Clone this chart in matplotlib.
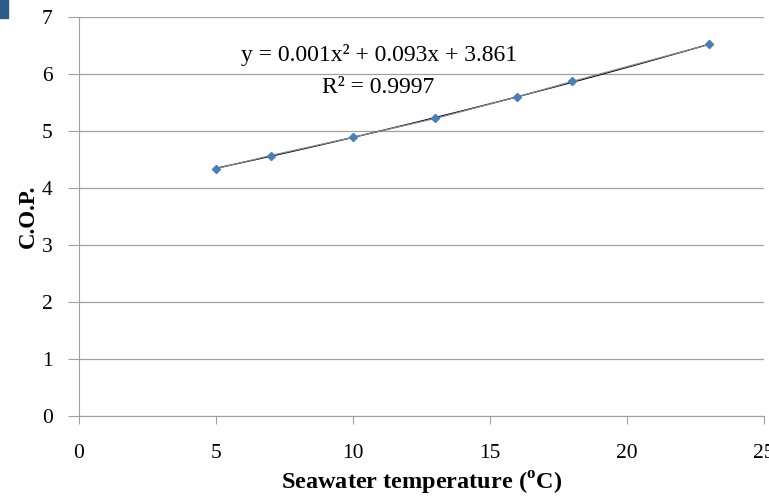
import matplotlib.pyplot as plt
import numpy as np
from matplotlib.patches import Rectangle

plt.rcParams['font.family'] = 'Liberation Serif'
plt.rcParams['mathtext.fontset'] = 'custom'
plt.rcParams['mathtext.rm'] = 'Liberation Serif'
plt.rcParams['mathtext.bf'] = 'Liberation Serif:bold'

# seawater temperature (C) and coefficient of performance
temp = [5, 7, 10, 13, 16, 18, 23]
cop = [4.34, 4.57, 4.89, 5.22, 5.60, 5.87, 6.52]
x_ticks = [0, 5, 10, 15, 20, 25]
y_ticks = [0, 1, 2, 3, 4, 5, 6, 7]

fig = plt.figure(figsize=(7.69, 5.01), dpi=100)
ax = fig.add_axes([0.1027, 0.1697, 0.891, 0.7963])

# 2nd order trendline
coef = np.polyfit(temp, cop, 2)
xf = np.linspace(temp[0], temp[-1], 100)
ax.plot(xf, np.polyval(coef, xf), color='black', lw=0.9, zorder=3)

ax.plot(temp, cop, color='#7f8a99', lw=0.9, marker='D', markersize=4.5,
        markerfacecolor='#4a7ebb', markeredgecolor='#4a7ebb', zorder=4)

ax.set_xlim(0, 25)
ax.set_ylim(0, 7)
ax.set_xticks(x_ticks)
ax.set_yticks(y_ticks)
ax.yaxis.grid(True, color='#a0a0a0', lw=0.9)
ax.set_axisbelow(True)
for s in ['top', 'right']:
    ax.spines[s].set_visible(False)
ax.spines['left'].set_color('#a0a0a0')
ax.spines['bottom'].set_color('#a0a0a0')
ax.tick_params(axis='y', length=8, color='#a0a0a0', labelsize=15.5, pad=11)
ax.tick_params(axis='x', length=6, color='#a0a0a0', labelsize=15.5, pad=14)

ax.set_xlabel(r'Seawater temperature ($^{\mathbf{o}}$C)', fontsize=17.5,
              fontweight='bold', labelpad=5)
ax.set_ylabel('C.O.P.', fontsize=16.5, fontweight='bold', labelpad=2)

ax.text(10.95, 6.33, 'y = 0.001x² + 0.093x + 3.861', fontsize=17,
        ha='center', va='center')
ax.text(10.9, 5.77, 'R² = 0.9997', fontsize=17, ha='center', va='center')

# small blue corner from the source page
fig.patches.append(Rectangle((0, 0.965), 0.011, 0.035, transform=fig.transFigure,
                             color='#2e5c8a', zorder=0))

fig.savefig('out.png', dpi=100)
